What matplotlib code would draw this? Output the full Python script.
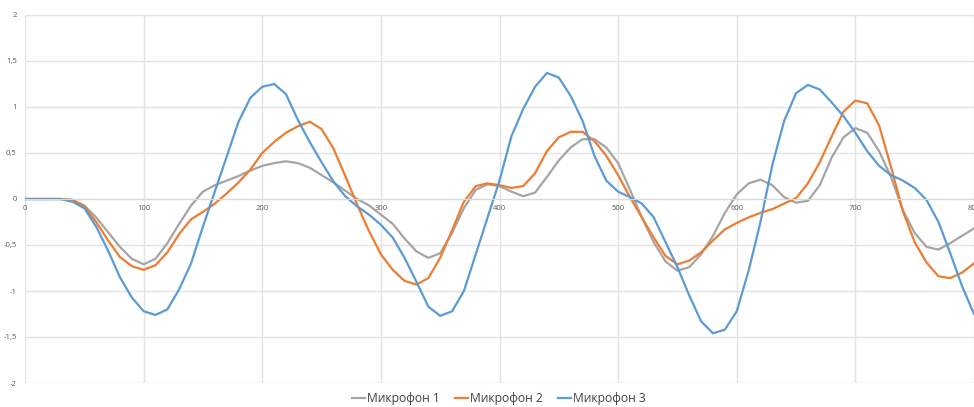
import matplotlib
matplotlib.use("Agg")
import matplotlib.pyplot as plt
import numpy as np

plt.rcParams['font.family'] = ['Open Sans', 'DejaVu Sans']

# отсчёты (шаг 10)
t = list(range(0, 810, 10))

mic1 = [0, 0, 0, 0, -0.01, -0.07, -0.2, -0.36, -0.52, -0.65,
        -0.71, -0.65, -0.48, -0.27, -0.07, 0.08, 0.15, 0.2, 0.25, 0.31,
        0.36, 0.39, 0.41, 0.39, 0.34, 0.26, 0.18, 0.09, 0.0, -0.07,
        -0.17, -0.27, -0.43, -0.57, -0.64, -0.59, -0.37, -0.1, 0.1, 0.16,
        0.14, 0.08, 0.03, 0.07, 0.24, 0.42, 0.56, 0.65, 0.65, 0.56,
        0.39, 0.1, -0.2, -0.47, -0.68, -0.78, -0.74, -0.6, -0.4, -0.15,
        0.05, 0.17, 0.21, 0.15, 0.02, -0.04, -0.02, 0.15, 0.45, 0.67,
        0.77, 0.72, 0.52, 0.24, -0.12, -0.37, -0.52, -0.55, -0.48, -0.40,
        -0.32]

mic2 = [0, 0, 0, 0, -0.01, -0.08, -0.25, -0.45, -0.63, -0.73,
        -0.77, -0.72, -0.58, -0.38, -0.22, -0.14, -0.05, 0.06, 0.18, 0.32,
        0.5, 0.62, 0.72, 0.79, 0.84, 0.76, 0.55, 0.25, -0.06, -0.35,
        -0.6, -0.77, -0.89, -0.93, -0.86, -0.64, -0.34, -0.03, 0.14, 0.17,
        0.15, 0.12, 0.14, 0.28, 0.52, 0.67, 0.73, 0.73, 0.63, 0.47,
        0.26, 0.02, -0.2, -0.42, -0.62, -0.71, -0.67, -0.58, -0.45, -0.33,
        -0.26, -0.2, -0.15, -0.11, -0.05, 0.01, 0.17, 0.4, 0.68, 0.95,
        1.07, 1.04, 0.8, 0.35, -0.13, -0.47, -0.69, -0.84, -0.86, -0.8,
        -0.7]

mic3 = [0, 0, 0, 0, -0.03, -0.1, -0.3, -0.56, -0.85, -1.07,
        -1.22, -1.26, -1.2, -0.98, -0.7, -0.3, 0.08, 0.46, 0.84, 1.1,
        1.22, 1.25, 1.14, 0.86, 0.62, 0.4, 0.19, 0.03, -0.08, -0.17,
        -0.28, -0.42, -0.64, -0.9, -1.17, -1.27, -1.22, -1.0, -0.6, -0.2,
        0.2, 0.68, 0.98, 1.22, 1.37, 1.32, 1.12, 0.85, 0.47, 0.2,
        0.08, 0.02, -0.05, -0.2, -0.47, -0.74, -1.05, -1.33, -1.46, -1.42,
        -1.22, -0.78, -0.25, 0.37, 0.85, 1.15, 1.24, 1.19, 1.05, 0.9,
        0.72, 0.52, 0.36, 0.26, 0.2, 0.12, -0.01, -0.25, -0.59, -0.95,
        -1.25]

labels = ['Микрофон 1', 'Микрофон 2', 'Микрофон 3']
colors = ['#a5a5a5', '#ed7d31', '#5b9bd5']

W, H = 974, 407
fig = plt.figure(figsize=(W / 100, H / 100), dpi=100)
ax = fig.add_axes([25 / W, (H - 383) / H, (974 - 25) / W, (383 - 15) / H])

for y, lab, c in zip([mic1, mic2, mic3], labels, colors):
    ax.plot(t, y, color=c, lw=1.6, label=lab, solid_joinstyle='round')

ax.set_xlim(0, 797)
ax.set_ylim(-2, 2)
ax.set_xticks(range(0, 801, 100))
ax.set_yticks(np.arange(-2, 2.01, 0.5))
ax.set_yticklabels([('%g' % v).replace('.', ',') for v in np.arange(-2, 2.01, 0.5)])
ax.grid(True, color='#e3e3e3', lw=1)
ax.set_axisbelow(True)

for s in ['top', 'right', 'left']:
    ax.spines[s].set_visible(False)
ax.spines['bottom'].set_position(('data', 0))
ax.spines['bottom'].set_color('#d9d9d9')
ax.tick_params(axis='both', length=0, labelsize=5.5, labelcolor='#595959')
ax.tick_params(axis='x', pad=4)
ax.tick_params(axis='y', pad=6)

fig.legend(loc='lower center', bbox_to_anchor=(0.512, -0.022), ncol=3,
           frameon=False, fontsize=8.7, handlelength=1.1, handletextpad=0.1,
           columnspacing=1.3, labelcolor='#404040')

fig.savefig('out.png', dpi=100)
